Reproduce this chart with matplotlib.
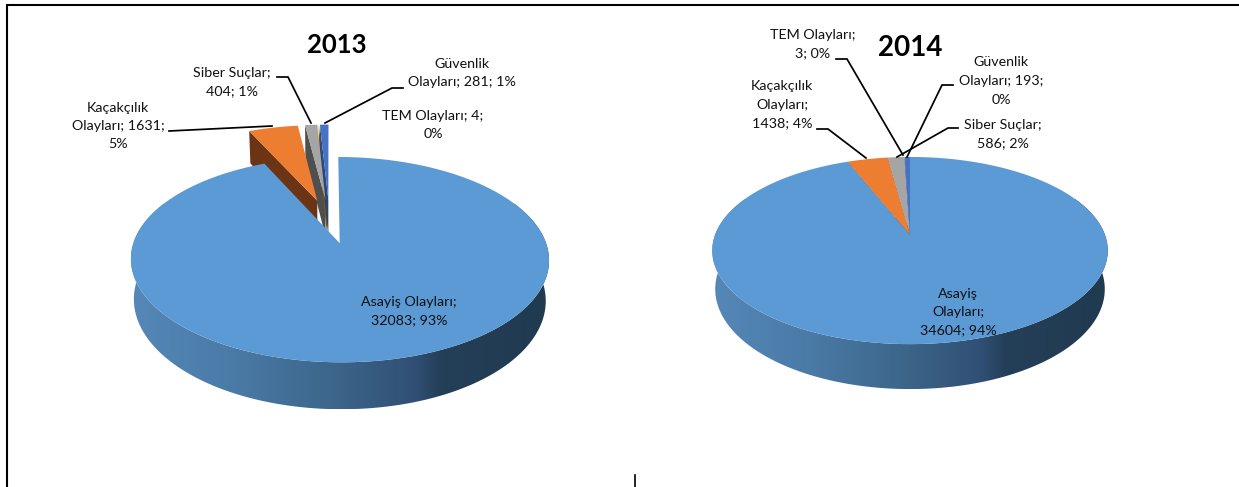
import numpy as np
import matplotlib
matplotlib.use("Agg")
import matplotlib.pyplot as plt
from matplotlib.colors import LinearSegmentedColormap
from matplotlib.patches import Polygon

plt.rcParams["font.family"] = ["Lato", "DejaVu Sans"]

# Order is the one used around the pie, clockwise from 12 o'clock
categories = ["Asayiş Olayları", "Kaçakçılık Olayları", "Siber Suçlar", "TEM Olayları", "Güvenlik Olayları"]
values_2013 = [32083, 1631, 404, 4, 281]
values_2014 = [34604, 1438, 586, 3, 193]

labels_2013 = ["Asayiş Olayları;\n32083; 93%", "Kaçakçılık\nOlayları; 1631;\n5%", "Siber Suçlar;\n404; 1%",
               "TEM Olayları; 4;\n0%", "Güvenlik\nOlayları; 281; 1%"]
labels_2014 = ["Asayiş\nOlayları;\n34604; 94%", "Kaçakçılık\nOlayları;\n1438; 4%", "Siber Suçlar;\n586; 2%",
               "TEM Olayları;\n3; 0%", "Güvenlik\nOlayları; 193;\n0%"]

top_colors = ["#5b9ad5", "#ed7d31", "#a5a5a5", "#ffc000", "#4472c4"]
side_colors = ["#3e6a92", "#6b3515", "#4f4f4f", "#7a5c00", "#2a4475"]
side_cmap = LinearSegmentedColormap.from_list(
    "side", [(0, "#5588b8"), (0.25, "#4a7aa6"), (0.5, "#3b6488"), (0.68, "#314f75"), (0.74, "#243f58"), (1, "#203a50")])

# label centres, in pixels
label_pos_2013 = [(409, 311), (118, 126), (232, 82), (433, 125), (462, 73)]
label_pos_2014 = [(958, 312), (782, 105), (1003, 134), (813, 44), (1001, 81)]

leaders_2013 = [[(169, 131), (272, 126)],
                [(277, 77), (288, 77), (311, 123)],
                [(403, 88), (392, 88), (325, 123)]]
leaders_2014 = [[(836, 59), (847, 59), (903, 155)],
                [(817, 129), (828, 129), (866, 158)],
                [(953, 85), (942, 85), (907, 157)],
                [(958, 128), (948, 128), (897, 157)]]

fig = plt.figure(figsize=(12.39, 4.87), dpi=100)
ax = fig.add_axes([0, 0, 1, 1])


def draw_pie(values, cx, cy, a, b, d, k, explode, sweep):
    shares = np.array(values) / sum(values) * 2 * np.pi
    ends = np.cumsum(shares)
    starts = ends - shares

    def project(u, v, z=0.0):
        w = 1 + k * v
        return np.column_stack([cx + a * u / w * (1 - 0.015 * z), cy - b * v / w + d * z / w])

    # back slices first, the big blue one goes on top
    for i in [1, 2, 3, 4, 0]:
        mid = (starts[i] + ends[i]) / 2
        u0, v0 = explode * np.sin(mid), explode * np.cos(mid)
        t = np.linspace(starts[i], ends[i], max(int(shares[i] * 60), 2))
        rim_u, rim_v = u0 + np.sin(t), v0 + np.cos(t)
        if i == 0:
            tt = np.radians(np.linspace(sweep[0], sweep[1], 200))
            uu, vv = u0 + np.sin(tt), v0 + np.cos(tt)
            pts = np.vstack([project(uu, vv), project(uu, vv, 1.0)[::-1]])
            poly = Polygon(pts, closed=True, fc="none", ec="none")
            ax.add_patch(poly)
            x0, x1 = pts[:, 0].min(), pts[:, 0].max()
            im = ax.imshow(np.linspace(0, 1, 256)[None, :], cmap=side_cmap, aspect="auto",
                           extent=(x0, x1, pts[:, 1].max(), pts[:, 1].min()), zorder=2)
            im.set_clip_path(poly)
        else:
            # radial cut on the left of the slice
            cut = np.vstack([project(np.array([u0, rim_u[0]]), np.array([v0, rim_v[0]])),
                             project(np.array([rim_u[0], u0]), np.array([rim_v[0], v0]), 1.0)])
            ax.add_patch(Polygon(cut, closed=True, fc=side_colors[i], ec="none", zorder=2))
        face = np.vstack([project(np.array([u0]), np.array([v0])), project(rim_u, rim_v)])
        ax.add_patch(Polygon(face, closed=True, fc=top_colors[i], ec="none", zorder=3))


draw_pie(values_2013, 329.5, 221, 199, 93, 38, 0.155, 0.235, (65, 295))
draw_pie(values_2014, 910, 235, 195, 91, 37.5, 0.166, 0.0, (65, 295))

for labels, positions in [(labels_2013, label_pos_2013), (labels_2014, label_pos_2014)]:
    for text, (x, y) in zip(labels, positions):
        ax.text(x, y, text, ha="center", va="center", fontsize=10.3, color="#111111", linespacing=1.65, zorder=6)

for line in leaders_2013 + leaders_2014:
    xs, ys = zip(*line)
    ax.plot(xs, ys, color="black", lw=1.25, solid_joinstyle="miter", zorder=5)

ax.text(337, 45, "2013", ha="center", va="center", fontsize=18.5, fontweight="bold", color="black")
ax.text(910, 48, "2014", ha="center", va="center", fontsize=20, fontweight="bold", color="black")

# frame of the pasted picture
ax.plot([6.5, 6.5, 1239], [487, 5, 5], color="black", lw=1.5, solid_joinstyle="miter")
ax.plot([634.5, 634.5], [475, 487], color="black", lw=1.2)

ax.set_xlim(0, 1239)
ax.set_ylim(487, 0)
ax.axis("off")

fig.savefig("out.png", dpi=100)
